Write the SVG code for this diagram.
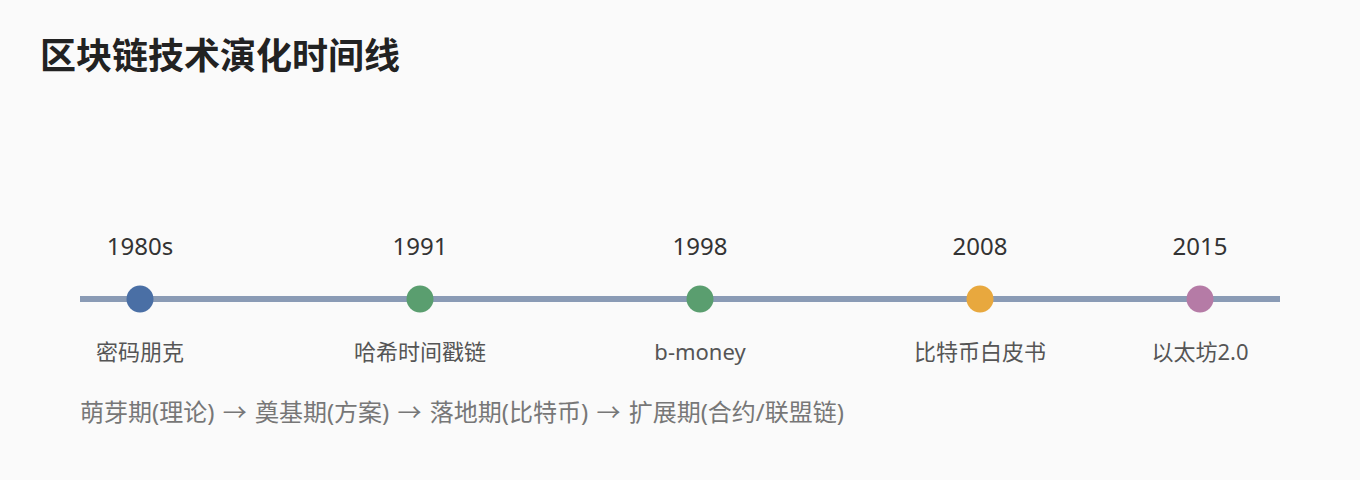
<svg xmlns="http://www.w3.org/2000/svg" width="1360" height="480" viewBox="0 0 1360 480">
<style>
text{font-family:"Noto Sans","Noto Sans CJK SC",sans-serif}
.title{font-size:36px;font-weight:700;fill:#222}
.year{font-size:24px;fill:#333;text-anchor:middle}
.label{font-size:22px;fill:#555;text-anchor:middle}
.note{font-size:24px;fill:#777;word-spacing:2px}
</style>
<rect width="1360" height="480" fill="#fafafa"/>
<text class="title" x="40" y="69">区块链技术演化时间线</text>
<g id="connectors">
<line x1="80" y1="299" x2="1280" y2="299" stroke="#8a9bb5" stroke-width="6"/>
</g>
<g id="n1980"><circle cx="140" cy="299" r="13.5" fill="#4a6fa5"/><text class="year" x="140" y="255">1980s</text><text class="label" x="140" y="360">密码朋克</text></g>
<g id="n1991"><circle cx="420" cy="299" r="13.5" fill="#5a9e6f"/><text class="year" x="420" y="255">1991</text><text class="label" x="420" y="360">哈希时间戳链</text></g>
<g id="n1998"><circle cx="700" cy="299" r="13.5" fill="#5a9e6f"/><text class="year" x="700" y="255">1998</text><text class="label" x="700" y="360">b-money</text></g>
<g id="n2008"><circle cx="980" cy="299" r="13.5" fill="#e8a83e"/><text class="year" x="980" y="255">2008</text><text class="label" x="980" y="360">比特币白皮书</text></g>
<g id="n2015"><circle cx="1200" cy="299" r="13.5" fill="#b57ba6"/><text class="year" x="1200" y="255">2015</text><text class="label" x="1200" y="360">以太坊2.0</text></g>
<text class="note" x="80" y="421">萌芽期(理论) → 奠基期(方案) → 落地期(比特币) → 扩展期(合约/联盟链)</text>
</svg>
